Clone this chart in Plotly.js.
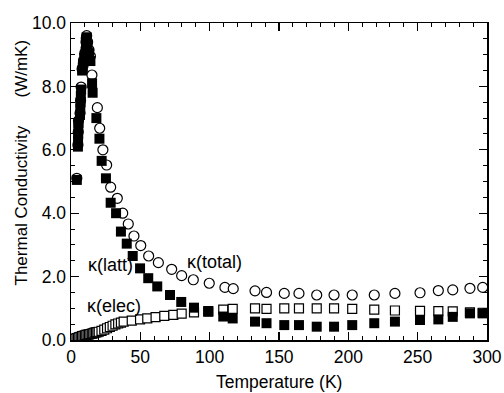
<!DOCTYPE html>
<html>
<head>
<meta charset="utf-8">
<script src="https://cdn.plot.ly/plotly-3.0.1.min.js"></script>
<style>html,body{margin:0;padding:0;background:#fff;}#chart{width:504px;height:393px;}</style>
</head>
<body>
<div id="chart"></div>
<script>
// Lattice thermal conductivity (filled squares)
var tLatt = [4.2, 5.0, 5.1, 5.2, 5.3, 5.4, 6.5, 6.7, 6.9, 7.1, 7.3, 8.0, 8.5, 9.0, 9.5, 10.0, 10.5, 10.8, 11.0, 11.3, 12.0, 13.0, 14.0, 15.2, 15.6, 18.3, 20.5, 22.1, 25.2, 28.6, 32.5, 36.0, 40.2, 44.5, 49.8, 55.7, 62.2, 71.4, 79.5, 88.7, 99.0, 109.8, 116.6, 132.7, 141.0, 153.8, 164.4, 177.2, 189.7, 202.8, 218.7, 233.6, 251.7, 264.9, 275.3, 287.7, 296.9];
var kLatt = [5.05, 6.1, 6.3, 6.5, 6.7, 6.85, 7.1, 7.3, 7.5, 7.7, 7.9, 8.5, 8.6, 8.75, 8.9, 9.0, 9.1, 9.3, 9.45, 9.55, 9.3, 9.05, 8.8, 8.1, 7.8, 7.0, 6.35, 5.65, 5.1, 4.33, 4.0, 3.42, 3.04, 2.65, 2.26, 1.95, 1.69, 1.42, 1.2, 1.02, 0.89, 0.74, 0.68, 0.58, 0.53, 0.47, 0.47, 0.42, 0.42, 0.47, 0.53, 0.58, 0.63, 0.65, 0.73, 0.84, 0.84];

// Total thermal conductivity (open circles)
var tTotal = [4.2, 5.0, 5.2, 5.4, 6.5, 6.9, 7.3, 8.0, 9.0, 10.0, 10.8, 11.0, 11.3, 12.0, 13.0, 14.0, 15.1, 19.0, 20.7, 23.0, 25.7, 28.6, 33.4, 37.3, 41.3, 45.4, 50.3, 56.0, 63.0, 72.6, 79.8, 88.2, 99.7, 111.0, 117.0, 132.7, 141.0, 153.8, 164.4, 177.2, 189.7, 202.8, 218.7, 233.6, 251.7, 264.9, 275.3, 287.7, 296.9];
var kTotal = [5.1, 6.15, 6.55, 6.92, 7.15, 7.55, 7.98, 8.55, 8.8, 9.05, 9.4, 9.52, 9.6, 9.4, 9.15, 8.95, 8.36, 7.33, 6.68, 6.0, 5.52, 4.82, 4.47, 4.0, 3.66, 3.28, 2.98, 2.65, 2.44, 2.23, 2.03, 1.9, 1.79, 1.66, 1.62, 1.55, 1.5, 1.47, 1.47, 1.42, 1.42, 1.42, 1.42, 1.47, 1.49, 1.56, 1.58, 1.63, 1.66];

// Electronic thermal conductivity (open squares)
var tElec = [2, 3, 4, 5, 6, 7, 8, 9, 10, 11, 12, 13, 14, 15, 16, 17, 18, 19, 20, 22, 24, 26, 28, 30, 32, 34, 36, 38, 43.8, 49.8, 55.0, 61.0, 67.3, 73.8, 79.8, 88.7, 99.0, 109.8, 116.6, 132.7, 141.0, 153.8, 164.4, 177.2, 189.7, 202.8, 218.7, 233.6, 251.7, 264.9, 275.3, 287.7, 296.9];
var kElec = [0.02, 0.04, 0.06, 0.07, 0.09, 0.1, 0.12, 0.13, 0.15, 0.16, 0.17, 0.18, 0.19, 0.2, 0.21, 0.23, 0.24, 0.25, 0.26, 0.29, 0.33, 0.37, 0.41, 0.45, 0.49, 0.52, 0.55, 0.58, 0.61, 0.65, 0.68, 0.72, 0.76, 0.79, 0.83, 0.87, 0.91, 0.96, 0.98, 1.0, 0.98, 1.0, 1.0, 1.0, 1.0, 0.98, 0.96, 0.93, 0.92, 0.91, 0.9, 0.87, 0.86];

var xTicks = [0, 50, 100, 150, 200, 250, 300];
var yTicks = [0, 2, 4, 6, 8, 10];

var labels = [
  {text: 'κ(latt)', x: 28.8, y: 2.37},
  {text: 'κ(elec)', x: 31, y: 1.07},
  {text: 'κ(total)', x: 103.8, y: 2.47}
];

var FONT = 'Liberation Sans, Arial, Helvetica, sans-serif';

var traces = [
  {x: tElec, y: kElec, type: 'scatter', mode: 'markers', name: 'elec',
   marker: {symbol: 'square', size: 9, color: '#ffffff', line: {color: '#000', width: 1.2}}},
  {x: tTotal, y: kTotal, type: 'scatter', mode: 'markers', name: 'total',
   marker: {symbol: 'circle', size: 10, color: '#ffffff', line: {color: '#000', width: 1.2}}},
  {x: tLatt, y: kLatt, type: 'scatter', mode: 'markers', name: 'latt',
   marker: {symbol: 'square', size: 10, color: '#000000', line: {color: '#000', width: 0}}}
];

var annotations = labels.map(function (l) {
  return {text: l.text, x: l.x, y: l.y, xref: 'x', yref: 'y', showarrow: false,
          xanchor: 'center', yanchor: 'middle', font: {family: FONT, size: 18, color: '#000'}};
});
annotations.push({
  text: 'Thermal Conductivity\u00A0\u00A0\u00A0\u00A0\u00A0\u00A0(W/mK)',
  xref: 'paper', yref: 'paper', x: 0, y: 0.56, xshift: -50, textangle: -90,
  xanchor: 'center', yanchor: 'middle', showarrow: false,
  font: {family: FONT, size: 17, color: '#000'}
});
annotations.push({
  text: 'Temperature (K)', xref: 'paper', yref: 'paper', x: 0.5, y: 0, yshift: -42,
  xanchor: 'center', yanchor: 'middle', showarrow: false,
  font: {family: FONT, size: 17.5, color: '#000'}
});

var layout = {
  width: 504, height: 393,
  margin: {l: 71, r: 17, t: 23, b: 53, pad: 0},
  paper_bgcolor: '#fff', plot_bgcolor: '#fff',
  showlegend: false,
  font: {family: FONT, size: 17.5, color: '#000'},
  xaxis: {
    range: [0, 300], tickvals: xTicks, ticktext: xTicks.map(String),
    ticks: 'inside', ticklen: 8, tickwidth: 1.2, tickcolor: '#000',
    showline: true, linecolor: '#000', linewidth: 1.5, mirror: 'allticks',
    showgrid: false, zeroline: false,
    minor: {dtick: 10, tick0: 0, ticks: 'inside', ticklen: 4, tickwidth: 1, tickcolor: '#000', showgrid: false},
    tickfont: {family: FONT, size: 17.5, color: '#000'}
  },
  yaxis: {
    range: [0, 10], tickvals: yTicks, ticktext: yTicks.map(function (v) { return v.toFixed(1); }),
    ticks: 'inside', ticklen: 8, tickwidth: 1.2, tickcolor: '#000',
    showline: true, linecolor: '#000', linewidth: 1.5, mirror: 'allticks',
    showgrid: false, zeroline: false,
    minor: {dtick: 0.5, tick0: 0, ticks: 'inside', ticklen: 4, tickwidth: 1, tickcolor: '#000', showgrid: false},
    tickfont: {family: FONT, size: 17.5, color: '#000'}
  },
  annotations: annotations
};

Plotly.newPlot('chart', traces, layout, {displayModeBar: false, staticPlot: true});
</script>
</body>
</html>
